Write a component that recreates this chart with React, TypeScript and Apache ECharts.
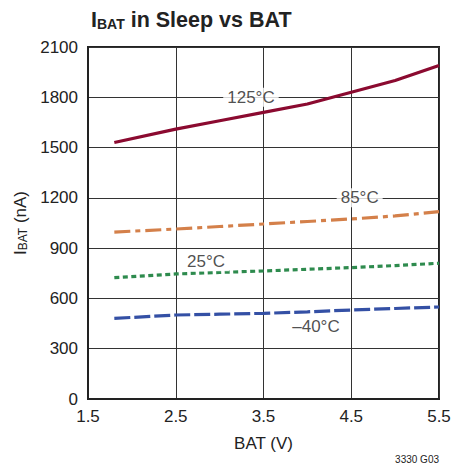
import React, { useEffect, useRef } from "react";
import * as echarts from "echarts";

const batV = [1.8, 2.5, 3.0, 3.5, 4.0, 4.5, 5.0, 5.5];
const i125 = [1530, 1610, 1660, 1710, 1760, 1830, 1900, 1990];
const i85 = [996, 1014, 1029, 1044, 1059, 1074, 1092, 1118];
const i25 = [724, 746, 755, 764, 774, 784, 796, 810];
const iM40 = [481, 501, 506, 511, 520, 531, 540, 549];

const labelTexts = ["125°C", "85°C", "25°C", "–40°C"];
const labelX = [3.357, 4.596, 2.845, 4.098];
const labelY = [1800, 1200, 819, 431];

const FONT = "'Liberation Sans', Arial, sans-serif";

export default function App() {
  const ref = useRef<HTMLDivElement>(null);
  useEffect(() => {
    if (!ref.current) return;
    const chart = echarts.init(ref.current, null, { renderer: "svg" });
    const mk = (ys: number[]) => batV.map((x, i) => [x, ys[i]]);
    const lineBase = (name: string, ys: number[], color: string, type: any) => ({
      name,
      type: "line",
      data: mk(ys),
      showSymbol: false,
      symbol: "none",
      smooth: false,
      lineStyle: { color, width: 3.2, type, cap: "butt" },
      z: 5,
    });
    chart.setOption({
      animation: false,
      backgroundColor: "#ffffff",
      textStyle: { fontFamily: FONT },
      grid: {
        left: 88,
        right: 27,
        top: 47,
        bottom: 71,
        show: true,
        borderColor: "#222",
        borderWidth: 2,
        backgroundColor: "transparent",
      },
      title: {
        text: "{i|I}{sub|BAT}{t| in Sleep vs BAT}",
        left: 91,
        top: 5,
        padding: 0,
        textStyle: {
          rich: {
            i: { fontSize: 21.5, lineHeight: 26, verticalAlign: "bottom", fontWeight: "bold", fontFamily: FONT, color: "#222" },
            sub: { fontSize: 14, lineHeight: 14, verticalAlign: "bottom", fontWeight: "bold", fontFamily: FONT, color: "#222" },
            t: { fontSize: 21.5, lineHeight: 26, verticalAlign: "bottom", fontWeight: "bold", fontFamily: FONT, color: "#222" },
          },
        },
      },
      xAxis: {
        type: "value",
        min: 1.5,
        max: 5.5,
        interval: 1,
        name: "BAT (V)",
        nameLocation: "middle",
        nameGap: 36,
        nameTextStyle: { fontSize: 17, color: "#222", fontFamily: FONT },
        axisLine: { show: true, lineStyle: { color: "#222", width: 2 } },
        axisTick: { show: false },
        axisLabel: { fontSize: 17, color: "#222", margin: 9, fontFamily: FONT, formatter: (v: number) => v.toFixed(1) },
        splitLine: { show: true, lineStyle: { color: "#333", width: 1 } },
      },
      yAxis: {
        type: "value",
        min: 0,
        max: 2100,
        interval: 300,
        name: "{a|I}{b|BAT}{a| (nA)}",
        nameLocation: "middle",
        nameGap: 52,
        nameRotate: 90,
        nameTextStyle: {
          rich: {
            a: { fontSize: 17, lineHeight: 20, verticalAlign: "bottom", color: "#222", fontFamily: FONT },
            b: { fontSize: 12, lineHeight: 12, verticalAlign: "bottom", color: "#222", fontFamily: FONT },
          },
        },
        axisLine: { show: true, lineStyle: { color: "#222", width: 2 } },
        axisTick: { show: false },
        axisLabel: { fontSize: 17, color: "#222", margin: 10, fontFamily: FONT, formatter: (v: number) => String(v) },
        splitLine: { show: true, lineStyle: { color: "#333", width: 1 } },
      },
      series: [
        lineBase("125°C", i125, "#8b0a30", "solid"),
        lineBase("85°C", i85, "#d4804a", [16, 5, 5, 5]),
        lineBase("25°C", i25, "#2e8b4e", [5, 3.5]),
        lineBase("-40°C", iM40, "#3450a5", [16, 4]),
        {
          type: "scatter",
          symbolSize: 0,
          z: 10,
          data: labelTexts.map((t, i) => ({ value: [labelX[i], labelY[i]], name: t })),
          label: {
            show: true,
            position: "inside",
            formatter: (p: any) => p.name,
            fontSize: 17,
            color: "#222",
            fontFamily: FONT,
            backgroundColor: "#ffffff",
            padding: [1, 4, 1, 4],
          },
          silent: true,
        },
      ],
      graphic: [
        {
          type: "text",
          right: 27,
          top: 454,
          style: { text: "3330 G03", fontSize: 10, fill: "#222", fontFamily: FONT },
        },
      ],
    });
    return () => chart.dispose();
  }, []);
  return <div ref={ref} style={{ width: 466, height: 470, position: "absolute", left: 0, top: 0 }} />;
}
